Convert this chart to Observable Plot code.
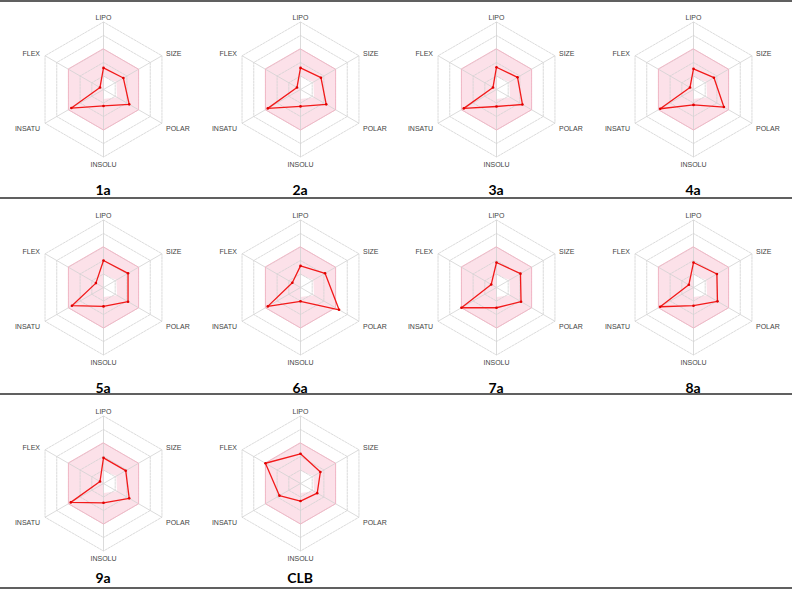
<!DOCTYPE html>
<html><head><meta charset="utf-8">
<script src="https://cdn.jsdelivr.net/npm/d3@7"></script>
<script src="https://cdn.jsdelivr.net/npm/@observablehq/plot@0.6"></script>
<style>
body{margin:0;background:#fff;}
#wrap{position:relative;width:792px;height:593px;overflow:hidden;background:#fff;}
.panel{position:absolute;}
.rule{position:absolute;left:0;width:792px;height:2px;background:#606060;}
</style></head><body><div id="wrap"></div>
<script>
// compounds (one radar each)
const compounds = ["1a","2a","3a","4a","5a","6a","7a","8a","9a","CLB"];
// radar axes, clockwise from top
const axisNames = ["LIPO","SIZE","POLAR","INSOLU","INSATU","FLEX"];
// values per property, in grid-ring units (0 = centre, 5 = outer ring)
const LIPO   = [1.60, 1.60, 1.65, 1.53, 2.00, 1.60, 1.85, 1.85, 1.90, 2.20];
const SIZE   = [1.70, 1.75, 1.80, 1.75, 2.10, 2.10, 2.05, 2.00, 1.90, 1.70];
const POLAR  = [2.20, 2.20, 2.22, 2.60, 2.10, 3.30, 2.10, 2.05, 2.20, 1.43];
const INSOLU = [1.22, 1.25, 1.26, 1.14, 1.40, 1.02, 1.50, 1.35, 1.43, 1.30];
const INSATU = [2.75, 2.80, 2.80, 2.85, 2.70, 2.80, 3.00, 2.85, 2.80, 1.80];
const FLEX   = [0.30, 0.30, 0.30, 0.30, 0.65, 0.70, 0.45, 0.40, 0.30, 3.00];
// optimal (pink) zone limits per axis
const optimalOuter = [3, 3, 3, 3, 3, 3];
const optimalInner = [0.95, 1.10, 1.15, 0.70, 0, 0];
// grid rings
const gridLevels = [1, 2, 3, 4, 5];

const series = {LIPO, SIZE, POLAR, INSOLU, INSATU, FLEX};
const ang = i => Math.PI / 2 - i * Math.PI / 3;
const px = (i, v) => v * Math.cos(ang(i));
const py = (i, v) => v * Math.sin(ang(i));

const W = 197, H = 196, CX = 99, CY = 89, UNIT = 13.5;
const colLeft = c => 4 + c * 196.5;
const rowTops = [0, 198, 394];
const labelDy = [-6, -6, -12];
const rules = [0, 197, 393, 587];

const font = "'Liberation Sans', Arial, sans-serif";
const labelStyle = [
  {textAnchor: "middle", dx: 0, dy: -4},
  {textAnchor: "start", dx: 4, dy: -2},
  {textAnchor: "start", dx: 4, dy: 5},
  {textAnchor: "middle", dx: 0, dy: 8},
  {textAnchor: "end", dx: -5, dy: 5},
  {textAnchor: "end", dx: -5, dy: -2.5}
];

const wrap = document.getElementById("wrap");

compounds.forEach((name, k) => {
  const col = k % 4, row = Math.floor(k / 4);
  const pts = axisNames.map((a, i) => ({axis: a, i, v: series[a][k]}));
  const outer = axisNames.map((a, i) => ({i, v: optimalOuter[i]}));
  const inner = axisNames.map((a, i) => ({i, v: optimalInner[i]}));
  const rings = gridLevels.flatMap(l => axisNames.map((a, i) => ({l, i, v: l})));
  const spokes = axisNames.map((a, i) => ({i, v: gridLevels[gridLevels.length - 1]}));

  const marks = [
    Plot.line(outer, {x: d => px(d.i, d.v), y: d => py(d.i, d.v), curve: "linear-closed", fill: "#fce1e9", stroke: "none"}),
    Plot.line(inner, {x: d => px(d.i, d.v), y: d => py(d.i, d.v), curve: "linear-closed", fill: "#ffffff", stroke: "none"}),
    Plot.line(rings, {x: d => px(d.i, d.v), y: d => py(d.i, d.v), z: "l", curve: "linear-closed", stroke: "#d2d2d2", strokeWidth: 0.8, strokeDasharray: "2,1.2"}),
    Plot.link(spokes, {x1: 0, y1: 0, x2: d => px(d.i, d.v), y2: d => py(d.i, d.v), stroke: "#d2d2d2", strokeWidth: 0.8}),
    Plot.line(outer, {x: d => px(d.i, d.v), y: d => py(d.i, d.v), curve: "linear-closed", stroke: "#f4b3c4", strokeWidth: 0.9}),
    Plot.line(pts, {x: d => px(d.i, d.v), y: d => py(d.i, d.v), curve: "linear-closed", stroke: "#f21a1a", strokeWidth: 1.3}),
    Plot.dot(pts, {x: d => px(d.i, d.v), y: d => py(d.i, d.v), r: 1.3, fill: "#e00000", stroke: "none"}),
    ...axisNames.map((a, i) => Plot.text([a], {
      x: px(i, 5), y: py(i, 5), text: d => d,
      textAnchor: labelStyle[i].textAnchor, dx: labelStyle[i].dx, dy: labelStyle[i].dy,
      lineAnchor: "middle", fontSize: 7, fill: "#444444", fontFamily: font
    })),
    Plot.text([name], {frameAnchor: "bottom", text: d => d, dy: labelDy[row], lineAnchor: "middle",
      fontSize: 14, fontWeight: "bold", fill: "#000", fontFamily: "Lato, 'Open Sans', sans-serif"})
  ];

  const chart = Plot.plot({
    width: W, height: H, margin: 0,
    x: {domain: [-CX / UNIT, (W - CX) / UNIT], range: [0, W], axis: null},
    y: {domain: [-(H - CY) / UNIT, CY / UNIT], range: [H, 0], axis: null},
    style: {background: "transparent", overflow: "visible"},
    marks
  });
  const div = document.createElement("div");
  div.className = "panel";
  div.style.left = colLeft(col) + "px";
  div.style.top = rowTops[row] + "px";
  div.appendChild(chart);
  wrap.appendChild(div);
});

rules.forEach(y => {
  const r = document.createElement("div");
  r.className = "rule";
  r.style.top = y + "px";
  wrap.appendChild(r);
});
</script></body></html>
